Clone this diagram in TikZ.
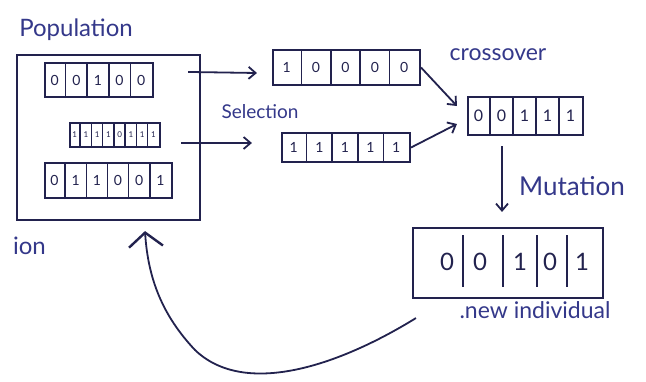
\documentclass[tikz,border=0pt]{standalone}
\usepackage{fontspec}
\setmainfont{Lato}
\usetikzlibrary{arrows.meta,calc}
\definecolor{ink}{HTML}{22224E}
\definecolor{inktext}{HTML}{34388A}
\newcommand\cellsrow[5]{% name, cell width, number of dividers, font size, list
  \ifnum#3>0
  \foreach \k in {1,...,#3}
    \draw[divline] ($(#1.south west)+(\k*#2,0)$) -- ($(#1.north west)+(\k*#2,0)$);
  \fi
  \foreach \v [count=\k] in {#5}
    \node[celltxt,font=\fontsize{#4}{#4}\selectfont] at ($(#1.west)+({(\k-0.5)*#2},0)$) {\v};
}
\begin{document}
\begin{tikzpicture}[x=1pt,y=-1pt,
  box/.style={draw=ink,line width=2.1pt,inner sep=0pt},
  divline/.style={draw=ink,line width=1.5pt},
  celltxt/.style={text=ink,inner sep=0pt},
  lbl/.style={text=inktext,inner sep=0pt},
  arr/.style={draw=ink,line width=1.8pt,-{Straight Barb[length=7pt,width=12pt,line width=1.8pt]}}]
\useasboundingbox (0,0) rectangle (646,381);
\fill[white] (0,0) rectangle (646,381);

% labels
\node[lbl,font=\fontsize{24}{24}\selectfont] (tpop) at (76,30) {Population};
\node[lbl,font=\fontsize{19}{19}\selectfont] (tsel) at (260,112) {Selection};
\node[lbl,font=\fontsize{23}{23}\selectfont] (tcross) at (498,55) {crossover};
\node[lbl,font=\fontsize{26}{26}\selectfont] (tmut) at (572,186) {Mutation};
\node[lbl,font=\fontsize{23}{23}\selectfont] (tnew) at (535,310) {.new individual};
\node[lbl,font=\fontsize{24}{24}\selectfont,anchor=east] (tion) at (46,246) {ion};

% population
\node[box,minimum width=183pt,minimum height=165pt] (pop) at (108.5,137.5) {};
\node[box,minimum width=108pt,minimum height=34pt] (p1) at (99,80) {};
\cellsrow{p1}{21.6}{4}{14}{0,0,1,0,0}
\node[box,minimum width=90pt,minimum height=24pt] (p2) at (115,135) {};
\cellsrow{p2}{11.25}{7}{8}{1,1,1,1,0,1,1,1}
\node[box,minimum width=127pt,minimum height=35pt] (p3) at (108.5,180.5) {};
\cellsrow{p3}{21.17}{5}{14}{0,1,1,0,0,1}

% selected parents
\node[box,minimum width=147pt,minimum height=35pt] (A) at (346.5,67.5) {};
\cellsrow{A}{29.4}{4}{14}{1,0,0,0,0}
\node[box,minimum width=128pt,minimum height=29pt] (B) at (346,147.5) {};
\cellsrow{B}{25.6}{4}{14}{1,1,1,1,1}

% crossover child
\node[box,minimum width=115pt,minimum height=38pt] (C) at (525.5,116) {};
\cellsrow{C}{23}{4}{16}{0,0,1,1,1}

% new individual
\node[box,minimum width=190pt,minimum height=70pt] (N) at (508,263) {};
\foreach \x in {-45,-5,29,59}
  \draw[divline] ($(N.center)+(\x,-28)$) -- ($(N.center)+(\x,24)$);
\foreach \v/\x in {0/-61,0/-28,1/12,0/42,1/74}
  \node[celltxt,font=\fontsize{24}{24}\selectfont] at ($(N.center)+(\x,-1)$) {\v};

% connectors
\draw[arr] ($(pop.north east)+(-13,18)$) -- ($(A.west)+(-15,5.5)$);
\draw[arr] ($(pop.east)+(-20,5.5)$) -- ($(B.west)+(-29,-4.5)$);
\draw[arr] (A.east) -- ($(C.west)+(-10,-10)$);
\draw[arr] (B.east) -- ($(C.west)+(-10,8)$);
\draw[arr] ($(C.south)+(-23.5,10)$) -- ($(N.north)+(-6,-15)$);
\coordinate (cs) at ($(N.south west)+(4,19)$);
\coordinate (ce) at ($(pop.south)+(36.5,10)$);
\draw[draw=ink,line width=1.8pt,-{Straight Barb[length=14pt,width=34pt,line width=2.4pt]}]
  (cs) .. controls (340,365) and (245,398) .. (195,350)
       .. controls (162,315) and (148,278) .. (ce);
\end{tikzpicture}
\end{document}
